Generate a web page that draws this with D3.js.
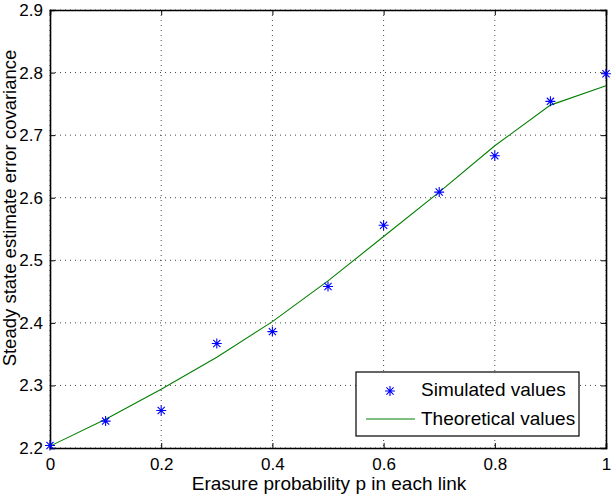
<!DOCTYPE html>
<html>
<head>
<meta charset="UTF-8">
<script src="https://cdn.jsdelivr.net/npm/d3@7"></script>
<style>
  body { margin: 0; background: #fff; }
  text { font-family: "Liberation Sans", Arial, sans-serif; fill: #000; }
</style>
</head>
<body>
<div id="chart"></div>
<script>
  // erasure probability values
  var pValues = [0, 0.1, 0.2, 0.3, 0.4, 0.5, 0.6, 0.7, 0.8, 0.9, 1];
  // simulated covariance (stars)
  var simulated = [2.204, 2.243, 2.260, 2.367, 2.386, 2.458, 2.556, 2.609, 2.667, 2.754, 2.798];
  // theoretical covariance (line)
  var theoretical = [2.203, 2.246, 2.294, 2.345, 2.402, 2.467, 2.538, 2.609, 2.683, 2.748, 2.779];

  var xTicks = [0, 0.2, 0.4, 0.6, 0.8, 1];
  var yTicks = [2.2, 2.3, 2.4, 2.5, 2.6, 2.7, 2.8, 2.9];
  var legendLabels = ["Simulated values", "Theoretical values"];

  var W = 612, H = 494;
  var margin = {top: 10, right: 6, bottom: 46, left: 50};
  var width = W - margin.left - margin.right,
      height = H - margin.top - margin.bottom;

  var x = d3.scaleLinear().domain([0, 1]).range([0, width]);
  var y = d3.scaleLinear().domain([2.2, 2.9]).range([height, 0]);

  var svg = d3.select("#chart").append("svg")
    .attr("width", W).attr("height", H);
  var g = svg.append("g")
    .attr("transform", "translate(" + margin.left + "," + margin.top + ")");

  // dotted grid
  g.append("g").selectAll("line").data(xTicks).enter().append("line")
    .attr("x1", d => x(d)).attr("x2", d => x(d))
    .attr("y1", 0).attr("y2", height)
    .attr("stroke", "#444").attr("stroke-width", 1)
    .attr("stroke-dasharray", "1,4");
  g.append("g").selectAll("line").data(yTicks).enter().append("line")
    .attr("x1", 0).attr("x2", width)
    .attr("y1", d => y(d)).attr("y2", d => y(d))
    .attr("stroke", "#444").attr("stroke-width", 1)
    .attr("stroke-dasharray", "1,4");

  // axes, ticks pointing inward (matlab style)
  var fmt = d => String(+d.toFixed(1));
  var bottomAx = g.append("g").attr("transform", "translate(0," + height + ")")
    .call(d3.axisBottom(x).tickValues(xTicks).tickSize(-5).tickPadding(9.5).tickFormat(fmt));
  var topAx = g.append("g")
    .call(d3.axisTop(x).tickValues(xTicks).tickSize(-5).tickFormat(""));
  var leftAx = g.append("g")
    .call(d3.axisLeft(y).tickValues(yTicks).tickSize(-5).tickPadding(7).tickFormat(fmt));
  var rightAx = g.append("g").attr("transform", "translate(" + width + ",0)")
    .call(d3.axisRight(y).tickValues(yTicks).tickSize(-5).tickFormat(""));

  [bottomAx, topAx, leftAx, rightAx].forEach(function(a) {
    a.select(".domain").attr("stroke", "#000").attr("stroke-width", 1.6);
    a.selectAll(".tick line").attr("stroke", "#000").attr("stroke-width", 1);
    a.selectAll("text").style("font-size", "17px").attr("fill", "#000")
      .style("font-family", "'Liberation Sans', Arial, sans-serif");
  });

  // theoretical line
  var line = d3.line()
    .x((d, i) => x(pValues[i]))
    .y(d => y(d));
  g.append("path").datum(theoretical)
    .attr("d", line)
    .attr("fill", "none")
    .attr("stroke", "#008000")
    .attr("stroke-width", 1.1);

  // asterisk marker
  function star(sel, r) {
    var a = r * 0.72;
    sel.append("path")
      .attr("d", "M" + (-r) + ",0H" + r + "M0," + (-r) + "V" + r +
        "M" + (-a) + "," + (-a) + "L" + a + "," + a +
        "M" + (-a) + "," + a + "L" + a + "," + (-a))
      .attr("stroke", "#0000ff").attr("stroke-width", 1.1).attr("fill", "none");
  }
  g.append("g").selectAll("g").data(simulated).enter().append("g")
    .attr("transform", (d, i) => "translate(" + x(pValues[i]) + "," + y(d) + ")")
    .each(function() { star(d3.select(this), 5); });

  // legend
  var leg = svg.append("g").attr("transform", "translate(356,372)");
  leg.append("rect").attr("width", 223).attr("height", 64)
    .attr("fill", "#fff").attr("stroke", "#000").attr("stroke-width", 1.2);
  star(leg.append("g").attr("transform", "translate(34,19)"), 5);
  leg.append("line").attr("x1", 10).attr("x2", 59).attr("y1", 47).attr("y2", 47)
    .attr("stroke", "#008000").attr("stroke-width", 1.1);
  leg.selectAll("text.lab").data(legendLabels).enter().append("text")
    .attr("class", "lab")
    .attr("x", 65).attr("y", (d, i) => 24 + i * 29)
    .style("font-size", "19px")
    .text(d => d);

  // axis titles
  svg.append("text")
    .attr("x", 329).attr("y", 490)
    .attr("text-anchor", "middle").style("font-size", "19px")
    .text("Erasure probability p in each link");
  svg.append("text")
    .attr("transform", "translate(16,208) rotate(-90)")
    .attr("text-anchor", "middle").style("font-size", "18.5px")
    .text("Steady state estimate error covariance");
</script>
</body>
</html>
